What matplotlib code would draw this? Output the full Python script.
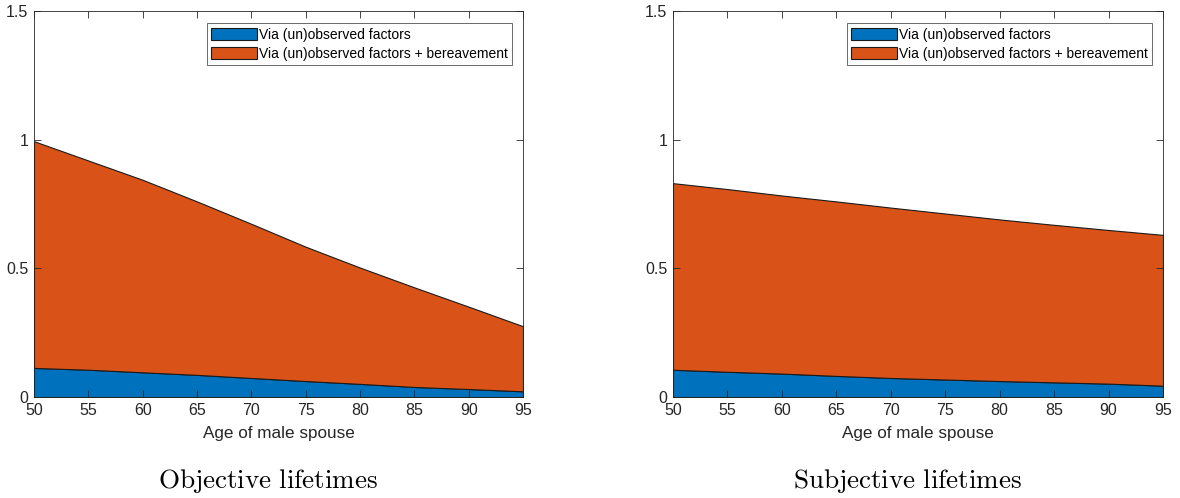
import matplotlib
matplotlib.use("Agg")
import matplotlib.pyplot as plt
from matplotlib.transforms import offset_copy
import numpy as np

# ages of the male spouse
ages = [50, 55, 60, 65, 70, 75, 80, 85, 90, 95]

# objective lifetimes
obj_unobserved = [0.113, 0.106, 0.096, 0.086, 0.074, 0.062, 0.051, 0.039, 0.031, 0.022]
obj_total = [0.994, 0.919, 0.844, 0.760, 0.673, 0.584, 0.503, 0.426, 0.351, 0.275]

# subjective lifetimes
subj_unobserved = [0.106, 0.098, 0.091, 0.082, 0.074, 0.068, 0.062, 0.057, 0.052, 0.044]
subj_total = [0.831, 0.808, 0.783, 0.760, 0.736, 0.713, 0.690, 0.669, 0.649, 0.630]

panel_titles = ["Objective lifetimes", "Subjective lifetimes"]
series_labels = ["Via (un)observed factors", "Via (un)observed factors + bereavement"]
x_ticks = [50, 55, 60, 65, 70, 75, 80, 85, 90, 95]
y_ticks = [0, 0.5, 1, 1.5]
y_ticklabels = ["0", "0.5", "1", "1.5"]

BLUE = "#0072BD"
ORANGE = "#D95319"
AXIS_COLOR = "#262626"

plt.rcParams["font.family"] = ["Liberation Sans", "DejaVu Sans"]
plt.rcParams["mathtext.fontset"] = "cm"

fig = plt.figure(figsize=(11.8, 4.98), dpi=100)
axes = [
    fig.add_axes([34 / 1180, 101 / 498, 489 / 1180, 386 / 498]),
    fig.add_axes([673 / 1180, 101 / 498, 490 / 1180, 386 / 498]),
]

panels = [(obj_unobserved, obj_total), (subj_unobserved, subj_total)]

for ax, (base, total), title in zip(axes, panels, panel_titles):
    base = np.array(base)
    extra = np.array(total) - base
    ax.stackplot(ages, base, extra, colors=[BLUE, ORANGE], labels=series_labels,
                 edgecolor="#1a1a1a", linewidth=0.8)

    ax.set_xlim(50, 95)
    ax.set_ylim(0, 1.5)
    ax.set_xticks(x_ticks)
    ax.set_yticks(y_ticks)
    ax.set_yticklabels(y_ticklabels)
    ax.tick_params(direction="in", length=5, width=0.6, top=True, right=True,
                   colors=AXIS_COLOR, labelcolor=AXIS_COLOR, labelsize=11.5, pad=4)
    for sp in ax.spines.values():
        sp.set_color(AXIS_COLOR)
        sp.set_linewidth(0.6)
    ax.set_xlabel("Age of male spouse", fontsize=12.3, color=AXIS_COLOR, labelpad=6)

    leg = ax.legend(loc="upper right", bbox_to_anchor=(0.977, 0.968), borderaxespad=0,
                    fontsize=10, frameon=True, fancybox=False, edgecolor=AXIS_COLOR,
                    handlelength=3.25, handleheight=0.95, handletextpad=0.15,
                    labelspacing=0.37, borderpad=0.3)
    leg.get_frame().set_linewidth(0.6)

    # panel caption below the axes, slightly left of centre as in the original
    trans = offset_copy(ax.transAxes, fig=fig, x=-10, y=0, units="dots")
    ax.text(0.5, -0.2358, r"$\mathrm{" + title.replace(" ", r"\ ") + "}$",
            transform=trans, ha="center", va="baseline", fontsize=19.5)

fig.savefig("out.png", dpi=100)
